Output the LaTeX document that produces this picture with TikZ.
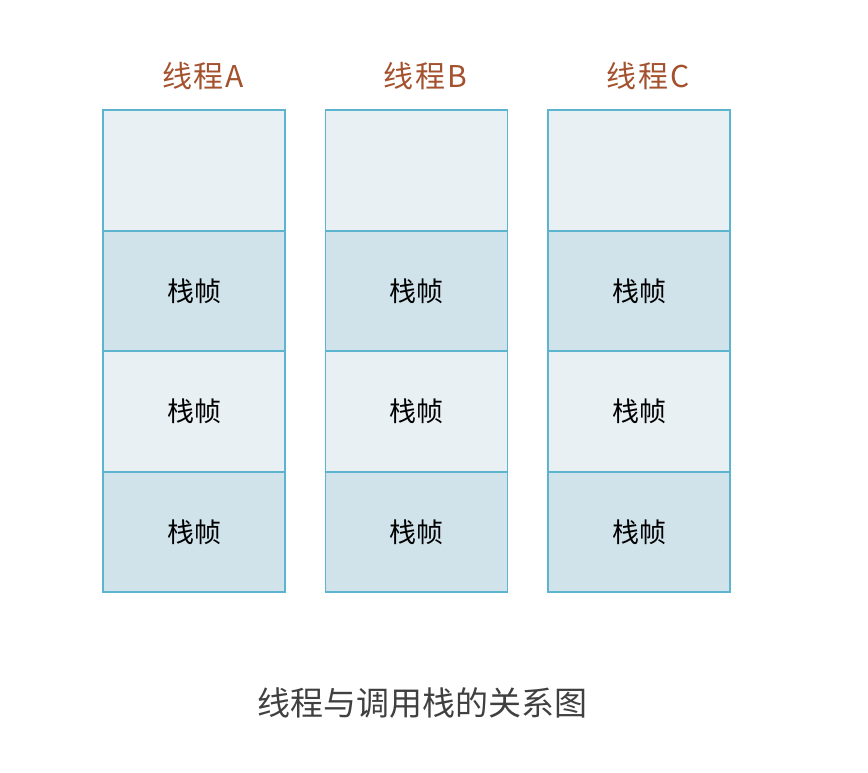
\documentclass[tikz,border=0pt]{standalone}
\usepackage{fontspec}
\setmainfont{Noto Sans CJK SC}
\usepackage{tikz}
\usetikzlibrary{positioning}
\definecolor{cellline}{HTML}{5DB4CE}
\definecolor{celllight}{HTML}{E8F0F4}
\definecolor{celldark}{HTML}{D0E2EA}
\definecolor{threadcol}{HTML}{A4512E}
\definecolor{captioncol}{HTML}{404040}

\begin{document}
\begin{tikzpicture}[x=1pt,y=-1pt,
  cell/.style={draw=cellline, line width=1.8pt, minimum width=182pt, minimum height=120.5pt, inner sep=0pt, outer sep=0pt, font=\fontsize{27}{30}\selectfont},
  light/.style={cell, fill=celllight},
  dark/.style={cell, fill=celldark},
  thread/.style={text=threadcol, font=\fontsize{30}{33}\selectfont\addfontfeatures{LetterSpace=6}},
  caption/.style={text=captioncol, font=\fontsize{33}{36}\selectfont}]
\useasboundingbox (0,0) rectangle (868,772);
\foreach \t/\x in {A/194, B/416.5, C/639}{
  \node [light] (\t1) at (\x,170.5) {};
  \node [dark, below=0pt of \t1] (\t2) {栈帧};
  \node [light, below=0pt of \t2] (\t3) {栈帧};
  \node [dark, below=0pt of \t3] (\t4) {栈帧};
  \node [thread, above=17pt of \t1.north, xshift=9pt] (title\t) {线程\t};
}
\node [caption] (caption) at (422,703) {线程与调用栈的关系图};
\end{tikzpicture}
\end{document}
